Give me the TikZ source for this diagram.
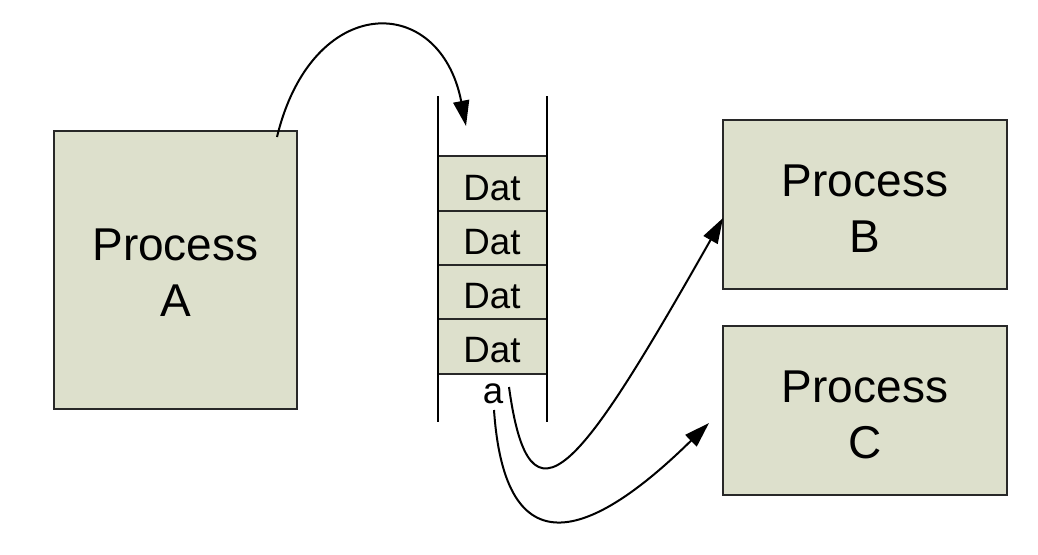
\documentclass[tikz,border=0pt]{standalone}
\usepackage{fontspec}
\setmainfont{Liberation Sans}
\usetikzlibrary{arrows.meta}
\definecolor{boxfill}{RGB}{221,224,204}
\definecolor{boxline}{RGB}{40,40,40}
\tikzset{
  procbox/.style={draw=boxline, line width=0.9pt, fill=boxfill},
  proctext/.style={align=center, font=\fontsize{34.5}{42}\selectfont, inner sep=0pt},
  cell/.style={draw=boxline, line width=0.9pt, fill=boxfill},
  celltext/.style={font=\fontsize{27.5}{32}\selectfont, inner sep=0pt},
  wall/.style={line width=2.2pt, black},
  flow/.style={line width=1.5pt, -{Triangle[length=19pt, width=12pt]}},
}
\begin{document}
\begin{tikzpicture}[x=0.75pt, y=-0.75pt]
\useasboundingbox (0,0) rectangle (1038,554);
% process boxes
\draw[procbox] (54,131) rectangle (297,409);
\node[proctext] (A) at (175.5,273) {Process\\A};
\draw[procbox] (723,120) rectangle (1007,289);
\node[proctext] (B) at (865,209) {Process\\B};
\draw[procbox] (723,326) rectangle (1007,495);
\node[proctext] (C) at (865,415) {Process\\C};
% queue cells
\draw[cell] (438,156) rectangle (547,211);
\draw[cell] (438,211) rectangle (547,265);
\draw[cell] (438,265) rectangle (547,319);
\draw[cell] (438,319) rectangle (547,374);
\node[celltext] (d1) at (492,188) {Dat};
\node[celltext] (d2) at (492,242) {Dat};
\node[celltext] (d3) at (492,296) {Dat};
\node[celltext] (d4) at (492,350) {Dat};
\node[celltext] (a) at (493,394) {a};
% walls
\draw[wall] (438,96) -- (438,422);
\draw[wall] (547,96) -- (547,422);
% connectors
\coordinate (s1) at (277,137);
\coordinate (t1) at (466,126);
\draw[flow] (s1) .. controls (312,-8) and (440,-8) .. (t1);
\coordinate (s2) at (509,387);
\coordinate (t2) at (723,218);
\draw[flow] (s2) .. controls (530,540) and (580,470) .. (t2);
\coordinate (s3) at (494,410);
\coordinate (t3) at (709,423);
\draw[flow] (s3) .. controls (505,570) and (590,540) .. (t3);
\end{tikzpicture}
\end{document}
